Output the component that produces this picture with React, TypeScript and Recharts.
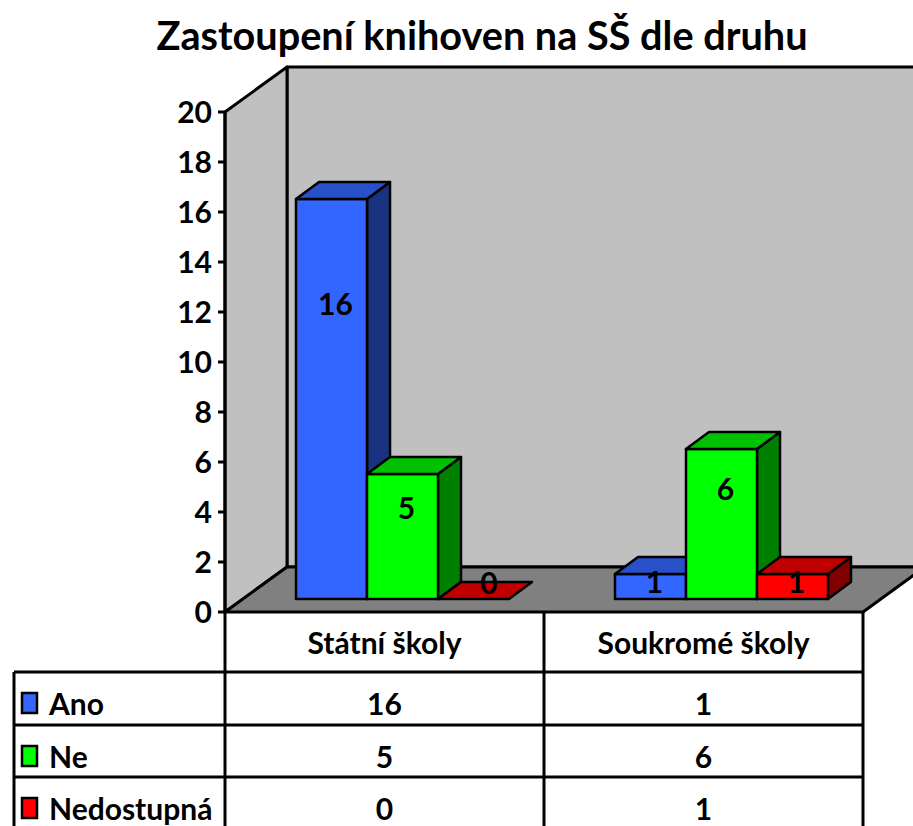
import React from "react";
import { BarChart, Bar, XAxis, YAxis, LabelList } from "recharts";

const categories = ["Státní školy", "Soukromé školy"];
const ano = [16, 1];
const ne = [5, 6];
const nedostupna = [0, 1];
const seriesNames = ["Ano", "Ne", "Nedostupná"];
const yTicks = [0, 2, 4, 6, 8, 10, 12, 14, 16, 18, 20];

const data = categories.map((name, i) => ({
  name,
  ano: ano[i],
  ne: ne[i],
  ned: nedostupna[i],
}));
const seriesValues = [ano, ne, nedostupna];

// front / top / side shades like the old excel 3d look
const palettes = [
  { front: "#3366FF", top: "#2850C8", side: "#1A3380" },
  { front: "#00FF00", top: "#00C000", side: "#008000" },
  { front: "#FF0000", top: "#C00000", side: "#800000" },
];

const W = 913;
const H = 826;
const PLOT_L = 225;
const PLOT_T = 112;
const PLOT_R = 863;
const PLOT_B = 612;
const WALL_DX = 62;
const WALL_DY = 45;
const SHIFT_X = 18; // bars stand a bit inside the floor
const SHIFT_Y = 13;
const BAR_DX = 23;
const BAR_DY = 17;

const FONT = "Lato, 'Open Sans', sans-serif";
const FS = 30;

// eslint-disable-next-line @typescript-eslint/no-explicit-any
const Box3D = (props: any) => {
  const { x, y, width, height, palette } = props;
  if (x == null || y == null) return null;
  const fx = x + SHIFT_X;
  const fy = y - SHIFT_Y;
  const w = width;
  const h = Math.max(height || 0, 0);
  const top = `${fx},${fy} ${fx + BAR_DX},${fy - BAR_DY} ${fx + w + BAR_DX},${fy - BAR_DY} ${fx + w},${fy}`;
  const side = `${fx + w},${fy} ${fx + w + BAR_DX},${fy - BAR_DY} ${fx + w + BAR_DX},${fy + h - BAR_DY} ${fx + w},${fy + h}`;
  return (
    <g stroke="#000" strokeWidth={2.5} strokeLinejoin="round">
      {h > 0 && <polygon points={side} fill={palette.side} />}
      {h > 0 && <rect x={fx} y={fy} width={w} height={h} fill={palette.front} />}
      <polygon points={top} fill={palette.top} />
    </g>
  );
};

// eslint-disable-next-line @typescript-eslint/no-explicit-any
const BarLabel = (props: any) => {
  const vb = props.viewBox || {};
  const x = props.x ?? vb.x;
  const y = props.y ?? vb.y;
  const width = props.width ?? vb.width;
  const height = Math.max(props.height ?? vb.height ?? 0, 0);
  if (x == null || y == null) return null;
  let cx = x + SHIFT_X + width / 2 + 4;
  let cy = y - SHIFT_Y + height * 0.26;
  if (height < 1) {
    cx += BAR_DX / 2;
    cy -= BAR_DY;
  }
  return (
    <text
      x={cx}
      y={cy}
      textAnchor="middle"
      dominantBaseline="central"
      fontFamily={FONT}
      fontWeight="bold"
      fontSize={FS}
      fill="#000"
    >
      {props.value}
    </text>
  );
};

const Backdrop = () => {
  const band = (PLOT_R - PLOT_L) / categories.length;
  const rowTops = [672, 725, 777];
  const rowH = 52;
  const tableLeft = 14;
  const farRight = W + 40;
  return (
    <svg width={W} height={H} style={{ position: "absolute", left: 0, top: 0 }}>
      <text
        x={482}
        y={50}
        textAnchor="middle"
        fontFamily={FONT}
        fontWeight="bold"
        fontSize={41}
        textLength={651}
        lengthAdjust="spacingAndGlyphs"
      >
        Zastoupení knihoven na SŠ dle druhu
      </text>
      <g stroke="#000" strokeWidth={3} strokeLinejoin="round">
        <rect x={PLOT_L + WALL_DX} y={PLOT_T - WALL_DY} width={farRight} height={PLOT_B - PLOT_T} fill="#C0C0C0" />
        <polygon
          points={`${PLOT_L},${PLOT_T} ${PLOT_L + WALL_DX},${PLOT_T - WALL_DY} ${PLOT_L + WALL_DX},${PLOT_B - WALL_DY} ${PLOT_L},${PLOT_B}`}
          fill="#C0C0C0"
        />
        <polygon
          points={`${PLOT_L},${PLOT_B} ${PLOT_L + WALL_DX},${PLOT_B - WALL_DY} ${farRight},${PLOT_B - WALL_DY} ${PLOT_R + WALL_DX},${PLOT_B - WALL_DY} ${PLOT_R},${PLOT_B}`}
          fill="#808080"
        />
      </g>
      {/* data table */}
      <g stroke="#000" strokeWidth={3}>
        {[0, 1, 2].map((i) => (
          <line key={"v" + i} x1={PLOT_L + band * i} y1={PLOT_B} x2={PLOT_L + band * i} y2={H} />
        ))}
        <line x1={tableLeft} y1={rowTops[0]} x2={tableLeft} y2={H} />
        {rowTops.map((t) => (
          <line key={"h" + t} x1={tableLeft} y1={t} x2={PLOT_R} y2={t} />
        ))}
      </g>
      <g fontFamily={FONT} fontWeight="bold" fontSize={FS} fill="#000">
        {categories.map((c, i) => (
          <text key={c} x={PLOT_L + band * (i + 0.5)} y={642} textAnchor="middle" dominantBaseline="central">
            {c}
          </text>
        ))}
        {seriesNames.map((s, r) => {
          const cy = rowTops[r] + rowH / 2 + 5;
          return (
            <g key={s}>
              <rect
                x={22}
                y={cy - 10}
                width={15}
                height={20}
                fill={palettes[r].front}
                stroke="#000"
                strokeWidth={2.5}
              />
              <text x={49} y={cy} dominantBaseline="central">
                {s}
              </text>
              {seriesValues[r].map((v, i) => (
                <text
                  key={i}
                  x={PLOT_L + band * (i + 0.5)}
                  y={cy}
                  textAnchor="middle"
                  dominantBaseline="central"
                >
                  {v}
                </text>
              ))}
            </g>
          );
        })}
      </g>
    </svg>
  );
};

const keys = ["ano", "ne", "ned"];

export default function App() {
  return (
    <div style={{ position: "absolute", left: 0, top: 0, width: W, height: H, background: "#fff" }}>
      <Backdrop />
      <div style={{ position: "absolute", left: 0, top: 0 }}>
        <BarChart
          width={W}
          height={H}
          data={data}
          margin={{ top: PLOT_T, left: PLOT_L - 60, right: W - PLOT_R, bottom: H - PLOT_B }}
          barCategoryGap={53}
          barGap={0}
        >
          <XAxis dataKey="name" hide />
          <YAxis
            width={60}
            domain={[0, 20]}
            ticks={yTicks}
            interval={0}
            axisLine={{ stroke: "#000", strokeWidth: 3 }}
            tickLine={{ stroke: "#000", strokeWidth: 3 }}
            tickSize={7}
            tickMargin={6}
            tick={{ fill: "#000", fontFamily: FONT, fontWeight: "bold", fontSize: FS }}
          />
          {keys.map((k, i) => (
            <Bar
              key={k}
              dataKey={k}
              name={seriesNames[i]}
              isAnimationActive={false}
              shape={(p: any) => <Box3D {...p} palette={palettes[i]} />}
            >
              <LabelList dataKey={k} content={BarLabel} />
            </Bar>
          ))}
        </BarChart>
      </div>
    </div>
  );
}
